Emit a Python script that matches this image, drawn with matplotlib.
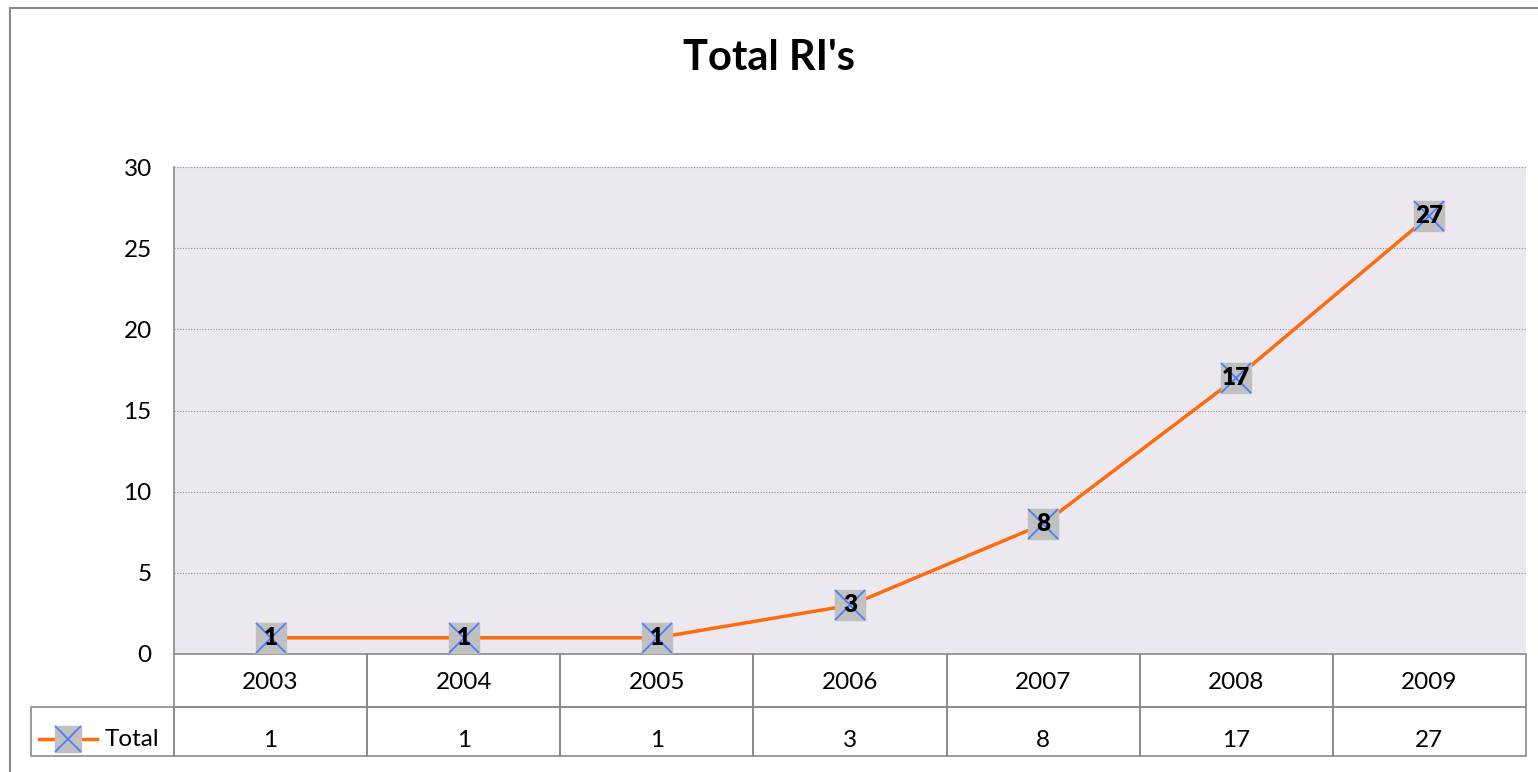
import matplotlib
matplotlib.use("Agg")
import matplotlib.pyplot as plt
from matplotlib.patches import Rectangle
from matplotlib.lines import Line2D

plt.rcParams['font.family'] = ['Lato', 'DejaVu Sans']

years = ['2003', '2004', '2005', '2006', '2007', '2008', '2009']
totals = [1, 1, 1, 3, 8, 17, 27]
series_name = 'Total'
title = "Total RI's"
yticks = [0, 5, 10, 15, 20, 25, 30]

LINE_COLOR = '#ff6a0d'
MARK_FACE = '#c0c0c0'
X_COLOR = '#4a7dff'
GRID = '#8c8c8c'
BG = '#ebe9ef'
FS = 17.5

W, H = 1538, 772
fig = plt.figure(figsize=(W / 100, H / 100), dpi=100)

# outer chart frame
fig.add_artist(Line2D([10 / W, 10 / W], [0, 1 - 8 / H], transform=fig.transFigure,
                      color='#8a8a8a', lw=1.5))
fig.add_artist(Line2D([10 / W, 1], [1 - 8 / H, 1 - 8 / H], transform=fig.transFigure,
                      color='#8a8a8a', lw=1.5))

fig.text(0.5, 1 - 58 / H, title, fontsize=30, fontweight='bold', ha='center', va='center')

left, right, top, bottom = 174, 1526, 167, 654
ax = fig.add_axes([left / W, 1 - bottom / H, (right - left) / W, (bottom - top) / H])
ax.set_facecolor(BG)

n = len(years)
x = list(range(n))
ax.set_xlim(-0.5, n - 0.5)
ax.set_ylim(0, 30)
ax.set_yticks(yticks)
ax.set_yticklabels([str(v) for v in yticks], fontsize=FS)
ax.tick_params(axis='y', length=0, pad=16)
ax.set_xticks([])
for v in yticks[1:]:
    ax.axhline(v, color=GRID, lw=0.8, ls=(0, (1, 1.5)), zorder=1)
for s in ['top', 'right', 'bottom']:
    ax.spines[s].set_visible(False)
ax.spines['left'].set_color('#8a8a8a')
ax.spines['left'].set_linewidth(1.2)

ax.plot(x, totals, color=LINE_COLOR, lw=2.5, zorder=3)
ax.plot(x, totals, ls='none', marker='s', ms=21.5, mfc=MARK_FACE, mec=MARK_FACE, zorder=4)
ax.plot(x, totals, ls='none', marker='x', ms=21.5, mec=X_COLOR, mew=1.3, zorder=5)
for xi, v in zip(x, totals):
    ax.text(xi, v, str(v), ha='center', va='center', fontsize=17.5, fontweight='heavy',
            color='black', zorder=6)

# data table below the plot
h1 = 53 / (bottom - top)
h2 = 49 / (bottom - top)
cw = 1.0 / n
lab_w = (left - 31) / (right - left)
edge = '#8a8a8a'
for i in range(n):
    x0 = i * cw
    ax.add_patch(Rectangle((x0, -h1), cw, h1, transform=ax.transAxes, fill=False,
                           ec=edge, lw=1.2, clip_on=False))
    ax.add_patch(Rectangle((x0, -h1 - h2), cw, h2, transform=ax.transAxes, fill=False,
                           ec=edge, lw=1.2, clip_on=False))
    ax.text(x0 + cw / 2, -h1 / 2 - 0.004, years[i], transform=ax.transAxes, ha='center',
            va='center', fontsize=FS)
    ax.text(x0 + cw / 2, -h1 - h2 / 2 - 0.018, str(totals[i]), transform=ax.transAxes,
            ha='center', va='center', fontsize=FS)
ax.add_patch(Rectangle((-lab_w, -h1 - h2), lab_w, h2, transform=ax.transAxes,
                       fill=False, ec=edge, lw=1.2, clip_on=False))
ym = -h1 - h2 / 2 - 0.016
ax.add_artist(Line2D([-0.0998, -0.057], [ym, ym], transform=ax.transAxes,
                     color=LINE_COLOR, lw=2.5, clip_on=False))
ax.add_artist(Line2D([-0.0784], [ym], transform=ax.transAxes, ls='none',
                     marker='s', ms=19, mfc=MARK_FACE, mec=MARK_FACE, clip_on=False))
ax.add_artist(Line2D([-0.0784], [ym], transform=ax.transAxes, ls='none',
                     marker='x', ms=19, mec=X_COLOR, mew=1.3, clip_on=False))
ax.text(-0.051, ym, series_name, transform=ax.transAxes, ha='left',
        va='center', fontsize=FS)

fig.savefig('out.png', dpi=100)
